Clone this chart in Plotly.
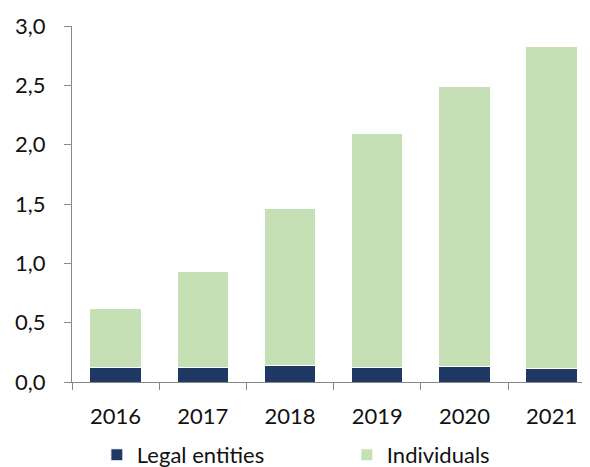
import plotly.graph_objects as go

years = ["2016", "2017", "2018", "2019", "2020", "2021"]
legal_entities = [0.12, 0.12, 0.14, 0.12, 0.13, 0.11]
individuals = [0.50, 0.81, 1.32, 1.97, 2.36, 2.72]
y_ticks = [0, 0.5, 1.0, 1.5, 2.0, 2.5, 3.0]
y_tick_labels = ["0,0", "0,5", "1,0", "1,5", "2,0", "2,5", "3,0"]

fig = go.Figure()
fig.add_trace(go.Bar(x=years, y=legal_entities, name="Legal entities",
                     marker=dict(color="#1F3864", line=dict(color="white", width=1))))
fig.add_trace(go.Bar(x=years, y=individuals, name="Individuals",
                     marker=dict(color="#C5E0B4", line=dict(color="white", width=1))))

fig.update_layout(
    barmode="stack",
    bargap=0.41,
    width=582, height=459,
    margin=dict(l=64, r=0, t=18, b=85, autoexpand=False),
    plot_bgcolor="white", paper_bgcolor="white",
    font=dict(family="Lato", size=22, color="#111111"),
    showlegend=True,
    legend=dict(orientation="h", x=0.048, xanchor="left", y=-0.205, yanchor="middle",
                entrywidth=205, entrywidthmode="pixels", traceorder="normal",
                font=dict(size=22)),
)
fig.update_xaxes(type="category", range=[-0.5, 5.44], showline=True, linecolor="#888888",
                 linewidth=1, ticks="outside", tickson="boundaries", ticklen=7,
                 tickcolor="#888888", showgrid=False, automargin=False,
                 ticklabelstandoff=15)
fig.update_yaxes(range=[0, 3.0], tickvals=y_ticks, ticktext=y_tick_labels,
                 showline=True, linecolor="#888888", linewidth=1, ticks="outside",
                 ticklen=7, tickcolor="#888888", showgrid=False, zeroline=False,
                 automargin=False, ticklabelstandoff=14)

fig.write_html("out.html")
